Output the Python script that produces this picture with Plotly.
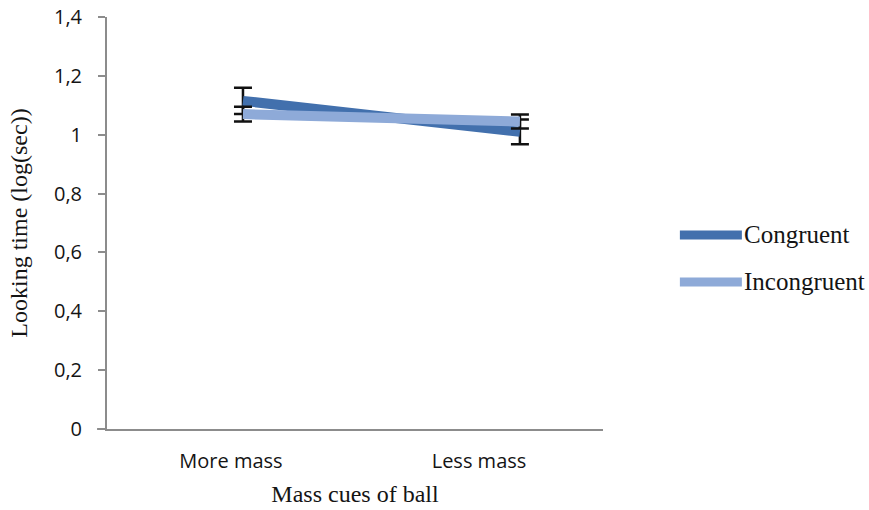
import plotly.graph_objects as go

# Mean log looking time per mass cue, with standard errors
categories = ["More mass", "Less mass"]
series_names = ["Congruent", "Incongruent"]
congruent = [1.115, 1.010]
congruent_err = [0.045, 0.042]
incongruent = [1.070, 1.045]
incongruent_err = [0.025, 0.024]
y_ticks = [0, 0.2, 0.4, 0.6, 0.8, 1.0, 1.2, 1.4]
y_tick_text = ["0", "0,2", "0,4", "0,6", "0,8", "1", "1,2", "1,4"]

colors = ["#4270ad", "#8eaad8"]
values = [congruent, incongruent]
errors = [congruent_err, incongruent_err]
axis_grey = "#8c8c8c"
text_col = "#141414"

fig = go.Figure()
# Empty trace so the category axis carries its labels
fig.add_trace(go.Scatter(x=categories, y=[None, None], mode="lines",
                         showlegend=False, hoverinfo="skip"))
for name, vals, errs, col in zip(series_names, values, errors, colors):
    fig.add_trace(go.Scatter(
        x=categories, y=vals, name=name, mode="lines",
        xaxis="x2",
        line=dict(color=col, width=10),
        error_y=dict(type="data", array=errs, visible=True,
                     color="#111111", thickness=2.5, width=9),
        showlegend=False,
    ))

# Base line continues a little to the left of the value axis
fig.add_shape(type="line", xref="paper", yref="paper",
              x0=-0.02, x1=0, y0=0, y1=0,
              line=dict(color=axis_grey, width=2))

# Hand-drawn legend to the right of the plot
legend_y = [0.471, 0.357]
for name, col, ly in zip(series_names, colors, legend_y):
    fig.add_shape(type="line", xref="paper", yref="paper",
                  x0=1.155, x1=1.28, y0=ly, y1=ly,
                  line=dict(color=col, width=9))
    fig.add_annotation(xref="paper", yref="paper", x=1.28, y=ly,
                       text=name, showarrow=False, xanchor="left",
                       yanchor="middle",
                       font=dict(family="Liberation Serif", size=25, color=text_col))

fig.update_layout(
    width=869, height=510,
    margin=dict(l=107, r=266, t=17, b=81),
    paper_bgcolor="white", plot_bgcolor="white",
    xaxis=dict(
        type="category", categoryarray=categories, range=[-0.5, 1.5],
        showline=True, linecolor=axis_grey, linewidth=2,
        ticks="", showgrid=False, zeroline=False, automargin=False,
        ticklabelstandoff=13,
        tickfont=dict(family="Open Sans", size=20, color=text_col),
        title=dict(text="Mass cues of ball", standoff=12,
                   font=dict(family="Liberation Serif", size=24, color=text_col)),
    ),
    xaxis2=dict(
        type="category", categoryarray=categories, overlaying="x",
        range=[-0.491, 1.300], visible=False,
    ),
    yaxis=dict(
        range=[0, 1.4], tickvals=y_ticks, ticktext=y_tick_text,
        showline=True, linecolor=axis_grey, linewidth=2,
        ticks="outside", ticklen=7, tickcolor=axis_grey, tickwidth=2,
        showgrid=False, zeroline=False, automargin=False,
        ticklabelstandoff=12,
        tickfont=dict(family="Open Sans", size=20, color=text_col),
        title=dict(text="Looking time (log(sec))", standoff=20,
                   font=dict(family="Liberation Serif", size=24, color=text_col)),
    ),
)

fig.write_html("out.html")
